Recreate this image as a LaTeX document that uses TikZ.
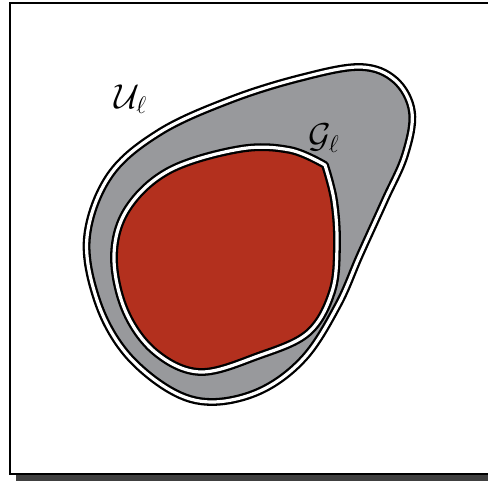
\documentclass[tikz,border=0pt]{standalone}
\usepackage{tikz}
\usetikzlibrary{positioning}
\definecolor{RegionGrey}{HTML}{98999C}
\definecolor{RegionRed}{HTML}{B3301E}
\definecolor{ShadowGrey}{HTML}{404040}

\begin{document}
\begin{tikzpicture}[x=0.5pt,y=-0.5pt,
    region/.style={draw=black,line width=1.15pt,double=white,double distance=1.6pt,line join=round},
    lbl/.style={font=\fontsize{17}{20}\selectfont,inner sep=0pt}]
  \useasboundingbox (0,0) rectangle (488,481);
  % frame with shadow
  \fill[ShadowGrey] (16,9) rectangle (500,481);
  \draw[line width=0.7pt,fill=white] (10,3) rectangle (494,474);
  % U_l
  \draw[region,fill=RegionGrey] plot[smooth cycle,tension=0.6] coordinates {
    (87,237) (97,300) (125,352) (170,390) (212,402) (262,390) (305,357)
    (338,305) (360,255) (385,200) (405,155) (412,112) (395,80)
    (360,67) (300,78) (230,100) (160,132) (110,175)};
  % G_l
  \draw[region,fill=RegionRed] plot[smooth,tension=0.6] coordinates {
    (325,165) (334,200) (337,245) (332,292) (308,333) (258,356)
    (200,372) (155,352) (125,310) (114,255) (128,208) (170,170)
    (240,149) (290,150) (325,165)} -- cycle;
  \node[lbl] (ulabel) at (131,99) {$\mathcal{U}_\ell$};
  \node[lbl] (glabel) at (324,138) {$\mathcal{G}_\ell$};
\end{tikzpicture}
\end{document}
